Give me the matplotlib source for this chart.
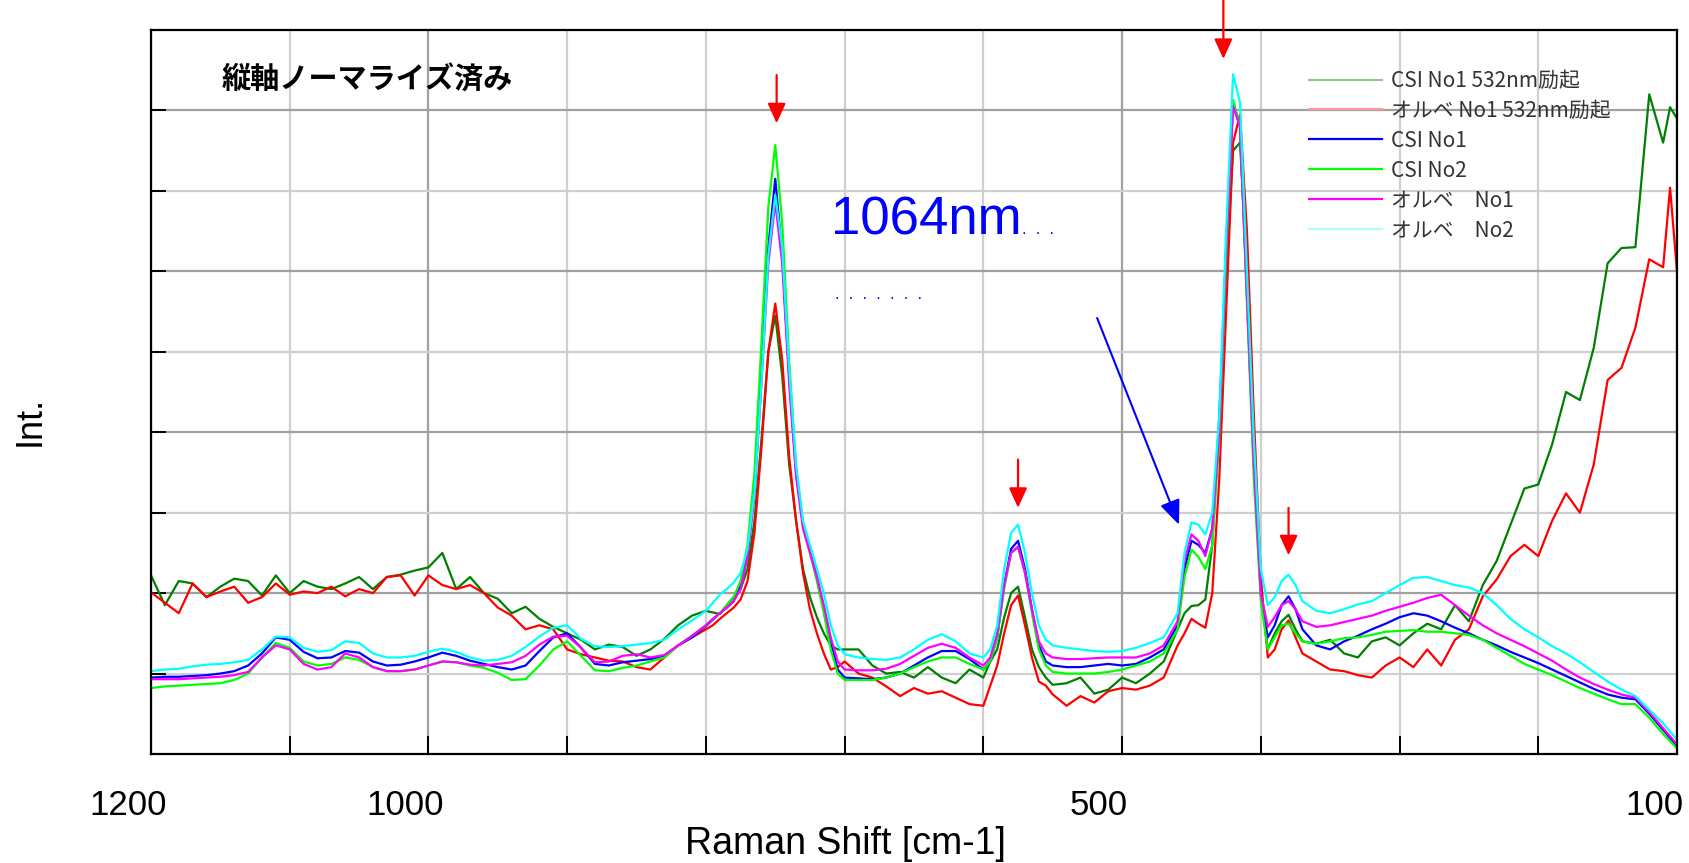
import matplotlib
matplotlib.use('Agg')

import matplotlib.pyplot as plt
import matplotlib.transforms as mtransforms
from matplotlib.lines import Line2D
from matplotlib.ticker import FixedLocator, NullFormatter

# Raman shift sample positions [cm-1], shared by every spectrum
shift = [1200, 1190, 1180, 1170, 1160, 1150, 1140, 1130, 1120, 1110,
         1100, 1090, 1080, 1070, 1060, 1050, 1040, 1030, 1020, 1010,
         1000, 990, 980, 970, 960, 950, 940, 930, 920, 910,
         900, 890, 880, 870, 860, 850, 840, 830, 820, 810,
         800, 795, 790, 785, 780, 775, 770, 765, 760, 755, 750, 745, 740, 735, 730, 725, 720, 715, 710, 705, 700,
         690, 680, 670, 660, 650, 640, 630, 620, 610,
         600, 595, 590, 585, 580, 575, 570, 565, 560, 555, 550,
         540, 530, 520, 510, 500, 490, 480, 470,
         460, 455, 450, 445, 440, 435, 430, 425, 420, 415, 410, 405, 400, 395, 390, 385, 380, 375, 370,
         360, 350, 340, 330, 320, 310, 300, 290, 280, 270, 260, 250, 240, 230, 220, 210, 200, 190, 180, 170,
         160, 150, 140, 130, 120, 110, 105, 100]

# normalised intensities (grid units)
csi1_532 = [2.22, 1.85, 2.15, 2.12, 1.95, 2.08, 2.18, 2.15, 1.97, 2.22,
            2.0, 2.15, 2.08, 2.05, 2.12, 2.2, 2.05, 2.2, 2.23, 2.28,
            2.32, 2.5, 2.05, 2.2, 2.0, 1.93, 1.75, 1.83, 1.68, 1.58,
            1.5, 1.42, 1.3, 1.36, 1.33, 1.22, 1.3, 1.43, 1.6, 1.72,
            1.78, 1.76, 1.74, 1.85, 1.95, 2.05, 2.3, 2.9, 3.9, 5.0, 5.45, 4.7, 3.6, 2.9, 2.3, 1.95, 1.7, 1.5, 1.35, 1.3, 1.3,
            1.3, 1.1, 1.0, 1.02, 0.95, 1.08, 0.95, 0.88, 1.05,
            0.95, 1.15, 1.3, 1.7, 2.0, 2.08, 1.7, 1.3, 1.08, 0.95, 0.86,
            0.88, 0.95, 0.75, 0.8, 0.95, 0.88, 1.0, 1.15,
            1.55, 1.75, 1.84, 1.85, 1.92, 2.6, 4.2, 6.0, 7.5, 7.6, 6.0, 3.8, 2.0, 1.3, 1.5, 1.65, 1.73, 1.55, 1.4,
            1.37, 1.42, 1.25, 1.2, 1.4, 1.45, 1.35, 1.5, 1.62, 1.55, 1.85, 1.65, 2.1, 2.4, 2.85, 3.3, 3.35, 3.85, 4.5, 4.4,
            5.05, 6.1, 6.29, 6.3, 8.2, 7.6, 8.04, 7.9]

orbe1_532 = [2.01, 1.88, 1.75, 2.12, 1.95, 2.02, 2.08, 1.88, 1.95, 2.12,
             1.98, 2.02, 2.0, 2.08, 1.96, 2.05, 2.0, 2.2, 2.22, 1.97,
             2.22, 2.1, 2.05, 2.1, 2.0, 1.82, 1.72, 1.55, 1.6, 1.55,
             1.3, 1.24, 1.2, 1.16, 1.15, 1.08, 1.05, 1.2, 1.35, 1.45,
             1.55, 1.6, 1.68, 1.75, 1.82, 1.92, 2.15, 2.75, 3.8, 5.0, 5.6, 4.9, 3.7, 2.9, 2.25, 1.8, 1.5, 1.25, 1.05, 1.08, 1.15,
             1.0, 0.95, 0.84, 0.72, 0.82, 0.75, 0.78, 0.7, 0.62,
             0.6, 0.85, 1.1, 1.5, 1.85, 1.97, 1.6, 1.2, 0.9, 0.85, 0.74,
             0.6, 0.72, 0.64, 0.78, 0.82, 0.8, 0.85, 0.95,
             1.35, 1.5, 1.68, 1.62, 1.57, 2.0, 3.4, 5.5, 7.6, 7.95, 6.5, 4.2, 2.2, 1.2, 1.3, 1.55, 1.66, 1.45, 1.25,
             1.15, 1.05, 1.03, 0.98, 0.95, 1.1, 1.2, 1.08, 1.3, 1.1, 1.42, 1.55, 1.96, 2.17, 2.46, 2.6, 2.46, 2.9, 3.24, 3.0,
             3.6, 4.65, 4.8, 5.3, 6.15, 6.05, 7.04, 6.0]

csi1 = [0.95, 0.96, 0.96, 0.97, 0.98, 1.0, 1.03, 1.1, 1.25, 1.45,
        1.42, 1.27, 1.19, 1.2, 1.28, 1.26, 1.15, 1.1, 1.11, 1.15,
        1.2, 1.26, 1.22, 1.16, 1.12, 1.08, 1.05, 1.1, 1.28, 1.45,
        1.5, 1.32, 1.12, 1.1, 1.14, 1.16, 1.18, 1.22, 1.35, 1.45,
        1.59, 1.67, 1.75, 1.82, 1.9, 2.1, 2.5, 3.3, 4.8, 6.3, 7.15, 6.2, 4.7, 3.5, 2.85, 2.55, 2.2, 1.8, 1.4, 1.05, 0.95,
        0.94, 0.93, 0.95, 1.0, 1.1, 1.2, 1.28, 1.28, 1.18,
        1.05, 1.15, 1.45, 2.1, 2.55, 2.65, 2.3, 1.8, 1.35, 1.15, 1.1,
        1.08, 1.08, 1.1, 1.12, 1.1, 1.12, 1.2, 1.3,
        1.6, 2.3, 2.65, 2.6, 2.5, 2.8, 4.0, 6.3, 8.1, 7.8, 5.7, 3.6, 2.0, 1.45, 1.6, 1.85, 1.96, 1.8, 1.55,
        1.35, 1.3, 1.4, 1.47, 1.55, 1.62, 1.7, 1.75, 1.72, 1.65, 1.57, 1.5, 1.42, 1.35, 1.27, 1.2, 1.13, 1.05, 0.97, 0.89,
        0.81, 0.74, 0.7, 0.68, 0.5, 0.3, 0.2, 0.1]

csi2 = [0.82, 0.84, 0.85, 0.86, 0.87, 0.88, 0.92, 1.0, 1.2, 1.38,
        1.32, 1.15, 1.1, 1.12, 1.2, 1.17, 1.08, 1.03, 1.03, 1.05,
        1.1, 1.15, 1.14, 1.1, 1.07, 1.01, 0.92, 0.93, 1.1, 1.3,
        1.4, 1.22, 1.04, 1.03, 1.07, 1.1, 1.15, 1.2, 1.35, 1.47,
        1.6, 1.68, 1.75, 1.85, 1.95, 2.15, 2.6, 3.5, 5.1, 6.8, 7.57, 6.6, 4.9, 3.55, 2.85, 2.5, 2.15, 1.75, 1.3, 1.0, 0.92,
        0.92, 0.92, 0.95, 1.0, 1.08, 1.15, 1.2, 1.2, 1.12,
        1.05, 1.15, 1.45, 2.05, 2.5, 2.57, 2.25, 1.75, 1.3, 1.1, 1.02,
        1.0, 1.0, 1.0, 1.02, 1.05, 1.1, 1.15, 1.25,
        1.55, 2.2, 2.54, 2.45, 2.3, 2.6, 3.9, 6.2, 8.13, 7.8, 5.6, 3.4, 1.9, 1.3, 1.45, 1.6, 1.62, 1.5, 1.4,
        1.37, 1.4, 1.44, 1.45, 1.48, 1.52, 1.53, 1.54, 1.52, 1.52, 1.5, 1.48, 1.42, 1.32, 1.22, 1.12, 1.05, 0.98, 0.9, 0.82,
        0.75, 0.68, 0.62, 0.62, 0.45, 0.25, 0.16, 0.07]

orbe1 = [0.93, 0.93, 0.93, 0.94, 0.95, 0.96, 0.98, 1.02, 1.2, 1.35,
         1.3, 1.12, 1.05, 1.08, 1.25, 1.2, 1.08, 1.03, 1.03, 1.05,
         1.1, 1.15, 1.14, 1.11, 1.1, 1.12, 1.14, 1.22, 1.36, 1.46,
         1.47, 1.32, 1.14, 1.15, 1.22, 1.24, 1.2, 1.23, 1.35, 1.47,
         1.6, 1.68, 1.75, 1.82, 1.9, 2.05, 2.45, 3.2, 4.6, 6.1, 6.86, 6.1, 4.6, 3.45, 2.8, 2.5, 2.2, 1.85, 1.45, 1.15, 1.05,
         1.04, 1.04, 1.06, 1.12, 1.22, 1.32, 1.37, 1.32, 1.2,
         1.1, 1.2, 1.5, 2.1, 2.5, 2.58, 2.25, 1.8, 1.4, 1.25, 1.2,
         1.18, 1.18, 1.19, 1.2, 1.2, 1.2, 1.25, 1.35,
         1.65, 2.4, 2.73, 2.65, 2.46, 2.8, 4.0, 6.3, 8.05, 7.8, 5.7, 3.6, 2.0, 1.58, 1.7, 1.85, 1.9, 1.8, 1.65,
         1.58, 1.6, 1.64, 1.68, 1.72, 1.78, 1.83, 1.88, 1.94, 1.98, 1.85, 1.72, 1.6, 1.5, 1.42, 1.34, 1.25, 1.16, 1.05, 0.95,
         0.87, 0.8, 0.74, 0.7, 0.52, 0.32, 0.22, 0.12]

orbe2 = [1.03, 1.05, 1.06, 1.09, 1.11, 1.12, 1.14, 1.17, 1.3, 1.46,
         1.45, 1.32, 1.27, 1.29, 1.4, 1.38, 1.25, 1.2, 1.2, 1.22,
         1.27, 1.31, 1.27, 1.2, 1.16, 1.17, 1.22, 1.33, 1.46, 1.57,
         1.6, 1.43, 1.34, 1.33, 1.34, 1.36, 1.38, 1.42, 1.55, 1.66,
         1.78, 1.88, 1.98, 2.05, 2.13, 2.25, 2.55, 3.25, 4.6, 6.2, 6.95, 6.3, 4.8, 3.6, 2.9, 2.6, 2.3, 2.0, 1.6, 1.35, 1.24,
         1.2, 1.18, 1.17, 1.2, 1.3, 1.42, 1.49, 1.4, 1.25,
         1.2, 1.3, 1.6, 2.3, 2.75, 2.85, 2.5, 2.0, 1.6, 1.42, 1.35,
         1.32, 1.3, 1.28, 1.27, 1.28, 1.32, 1.38, 1.45,
         1.75, 2.5, 2.88, 2.85, 2.73, 3.0, 4.2, 6.5, 8.45, 8.1, 6.0, 3.9, 2.3, 1.85, 1.95, 2.15, 2.23, 2.1, 1.9,
         1.78, 1.75, 1.8, 1.86, 1.9, 2.0, 2.1, 2.19, 2.2, 2.15, 2.1, 2.07, 2.0, 1.85, 1.68, 1.55, 1.45, 1.34, 1.25, 1.14,
         1.02, 0.9, 0.8, 0.72, 0.55, 0.38, 0.28, 0.18]

series = [csi1_532, orbe1_532, csi1, csi2, orbe1, orbe2]
labels = ['CSI No1 532nm励起', 'オルベ No1 532nm励起', 'CSI No1', 'CSI No2', 'オルベ　No1', 'オルベ　No2']
colors = ['#008000', '#ff0000', '#0000ff', '#00ff00', '#ff00ff', '#00ffff']
legend_colors = ['#90c890', '#ff9a9a', '#0000ff', '#00ff00', '#ff00ff', '#a8ffff']

# red markers over the 1064nm bands: (shift, tail, tip)
red_arrows = [(749, 8.44, 7.84), (575, 3.66, 3.06), (427, 9.38, 8.64), (380, 3.06, 2.47)]

for s in series:
    assert len(s) == len(shift), len(s)

jp = ['Noto Sans CJK JP', 'DejaVu Sans']
latin = ['Liberation Sans', 'DejaVu Sans']

fig = plt.figure(figsize=(16.89, 8.63), dpi=100)
ax = fig.add_axes([151 / 1689, 109 / 863, 1526 / 1689, 724 / 863])

for s, c in zip(series, colors):
    ax.plot(shift, s, color=c, lw=1.6)

ax.set_xlim(1200, 100)
ax.set_ylim(0, 9)

# ticks and grid
ax.xaxis.set_major_locator(FixedLocator([1200, 1000, 500, 100]))
ax.xaxis.set_minor_locator(FixedLocator([1100, 900, 800, 700, 600, 400, 300, 200]))
ax.yaxis.set_major_locator(FixedLocator([2, 4, 6, 8]))
ax.yaxis.set_minor_locator(FixedLocator([1, 3, 5, 7]))
ax.yaxis.set_major_formatter(NullFormatter())
ax.set_axisbelow(True)
ax.grid(which='major', color='#a0a0a0', lw=1.6)
ax.grid(which='minor', color='#cfcfcf', lw=1.6)
ax.tick_params(axis='x', which='both', direction='in', length=13, width=1.4, color='black',
               top=False, labelsize=25, pad=25)
ax.tick_params(axis='y', which='both', direction='in', length=11, width=1.4, color='black',
               right=False)
for lab in ax.get_xticklabels():
    lab.set_family(latin)
    lab.set_transform(lab.get_transform() + mtransforms.ScaledTranslation(-0.23, 0, fig.dpi_scale_trans))
for sp in ax.spines.values():
    sp.set_linewidth(1.6)
    sp.set_color('black')

ax.set_xlabel('Raman Shift [cm-1]', fontsize=27, family=latin)
ax.xaxis.set_label_coords(0.455, -0.099)
ax.set_ylabel('Int.', fontsize=26, family=latin)
ax.yaxis.set_label_coords(-0.068, 0.46)

# title box text
ax.text(0.0465, 0.931, '縦軸ノーマライズ済み', transform=ax.transAxes, fontsize=21,
        fontweight='bold', family=jp, va='center', ha='left')

# 1064nm note
ax.text(710, 6.46, '1064nm', color='#0000ff', fontsize=38, family=latin, va='baseline', ha='left')
ax.text(572, 6.46, '.  .  .', color='#0000ff', fontsize=12, family=latin, va='baseline', ha='left')
ax.text(707, 5.66, '.  .  .  .  .  .  .', color='#0000ff', fontsize=12, family=latin,
        va='baseline', ha='left')
ax.annotate('', xy=(459, 2.85), xytext=(518, 5.42),
            arrowprops=dict(arrowstyle='-|>,head_length=0.6,head_width=0.25', color='#0000ff',
                            lw=1.5, mutation_scale=25, shrinkA=0, shrinkB=0))

for x, y0, y1 in red_arrows:
    ax.annotate('', xy=(x, y1), xytext=(x, y0), annotation_clip=False,
                arrowprops=dict(arrowstyle='-|>,head_length=0.55,head_width=0.25', color='#ff0000',
                                lw=1.6, mutation_scale=22, shrinkA=0, shrinkB=0))

handles = [Line2D([], [], color=c, lw=1.6) for c in legend_colors]
ax.legend(handles, labels, loc='upper left', bbox_to_anchor=(0.759, 0.945), frameon=False,
          prop={'family': jp, 'size': 15}, labelcolor='#333333', handlelength=3.5,
          handletextpad=0.42, labelspacing=0.38, borderpad=0, borderaxespad=0)

plt.savefig('out.png', dpi=100)
